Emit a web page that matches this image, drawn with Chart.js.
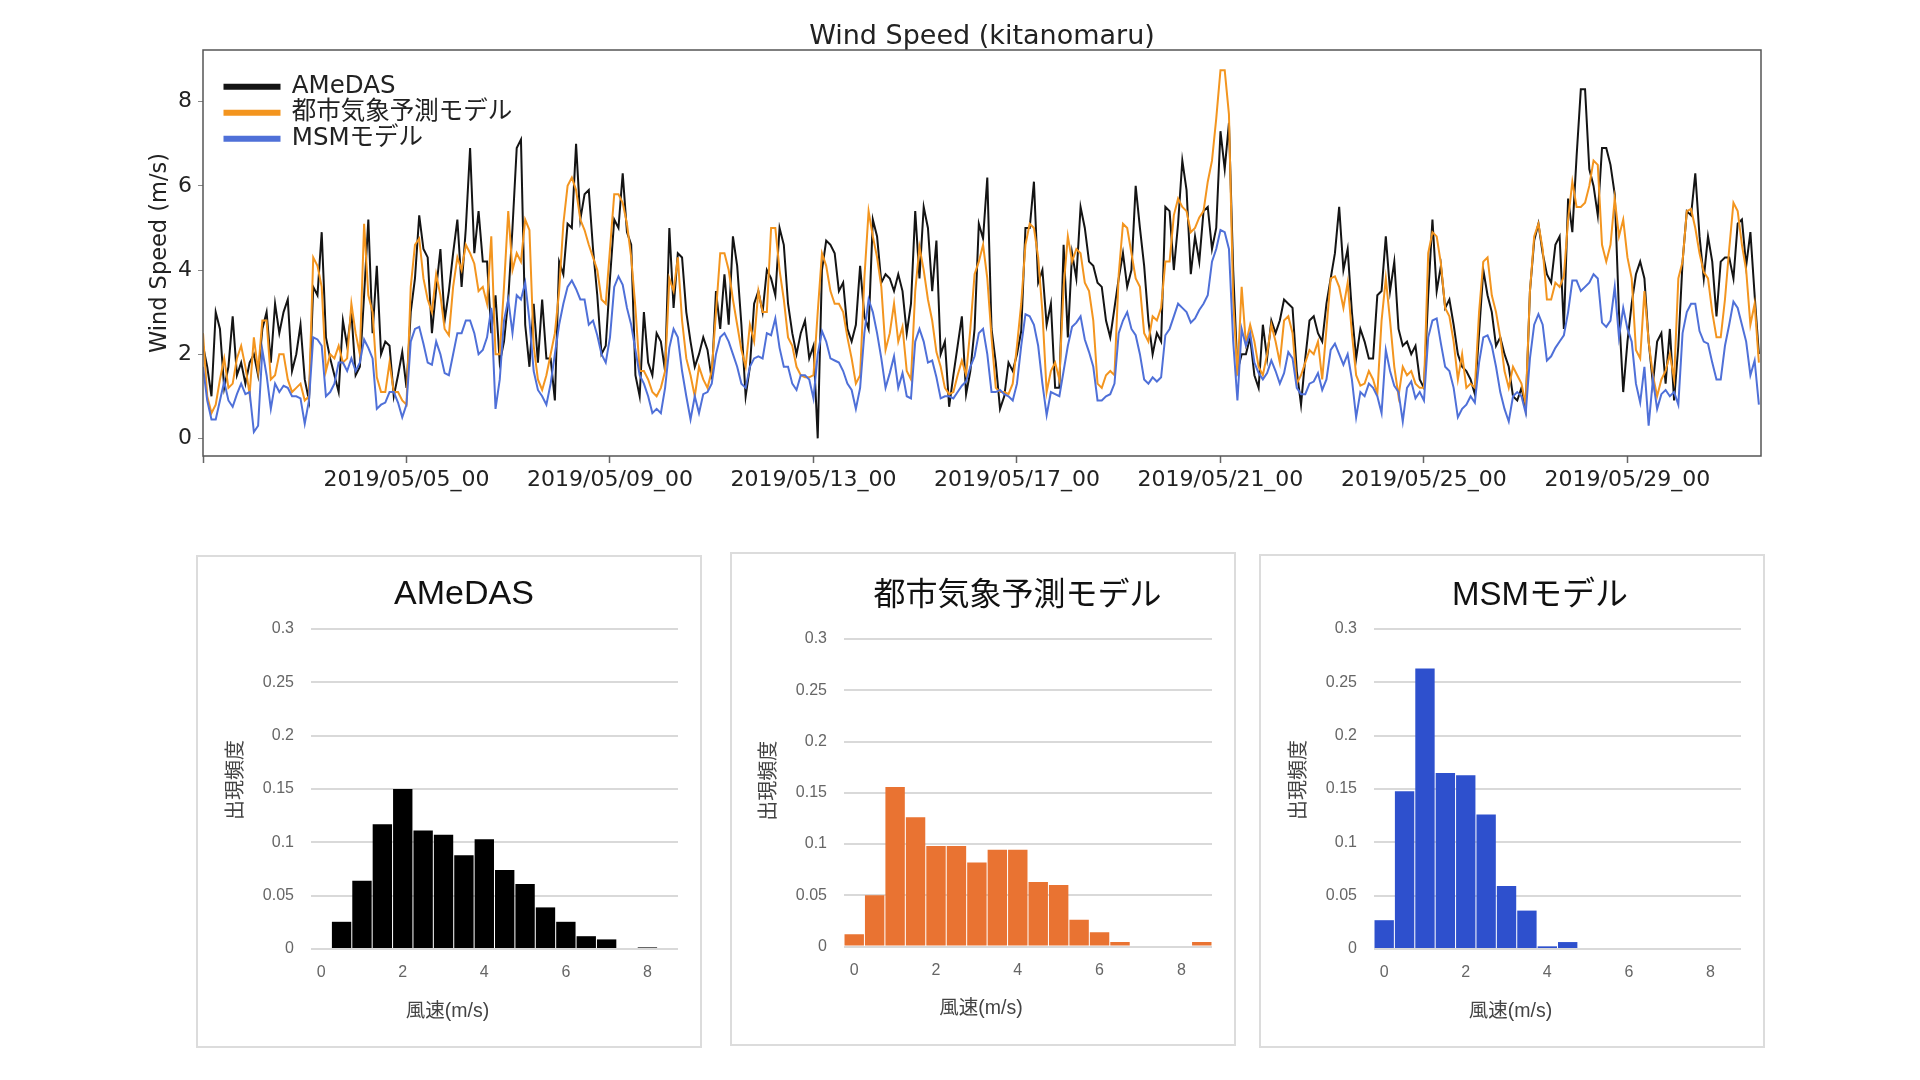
<!DOCTYPE html>
<html>
<head>
<meta charset="utf-8">
<script src="https://cdn.jsdelivr.net/npm/chart.js@4"></script>
<style>
  body { margin:0; background:#fff; width:1920px; height:1080px; overflow:hidden; position:relative; }
  canvas { position:absolute; }
  .card { position:absolute; box-sizing:border-box; border:2px solid #dcdcdc; background:#fff; }
</style>
</head>
<body>
<div class="card" style="left:196px;top:555px;width:506px;height:493px"></div>
<div class="card" style="left:730px;top:552px;width:506px;height:494px"></div>
<div class="card" style="left:1259px;top:554px;width:506px;height:494px"></div>
<canvas id="line-chart" style="left:142px;top:0" width="1680" height="506"></canvas>
<canvas id="hist-amedas" style="left:205px;top:540px" width="518" height="508"></canvas>
<canvas id="hist-urban" style="left:746px;top:540px" width="543" height="508"></canvas>
<canvas id="hist-msm" style="left:1276px;top:540px" width="528" height="508"></canvas>
<script>
// one value every 2 hours from 2019/05/01_00
const STEP_HOURS = 2;
const seriesNames = ['AMeDAS', '都市気象予測モデル', 'MSMモデル'];

const amedasSpeed = [
  2.2,1.7,1.0,3.0,2.6,1.2,1.7,2.9,1.5,1.8,
  1.3,1.8,2.0,1.5,2.6,3.0,1.8,3.2,2.5,3.0,
  3.3,1.6,2.0,2.7,1.4,0.9,3.6,3.4,4.9,2.4,
  1.9,1.5,1.1,2.8,2.2,3.0,1.5,1.7,3.4,5.2,
  2.5,4.1,2.0,2.3,2.2,1.0,1.5,2.05,1.2,3.0,
  3.8,5.3,4.5,4.3,2.5,3.55,4.5,2.8,3.5,4.4,
  5.2,3.6,5.0,6.9,4.4,5.4,4.2,4.2,2.5,3.4,
  1.8,2.3,3.3,5.0,6.9,7.1,2.7,1.7,3.2,1.8,
  3.3,1.9,1.9,0.9,4.2,3.9,5.1,5.0,7.0,5.2,
  5.8,5.9,4.5,3.4,2.0,2.2,3.8,5.2,5.0,6.3,
  4.9,4.6,1.5,1.0,3.0,1.8,1.5,2.5,2.3,1.6,
  5.0,3.1,4.4,4.3,3.0,2.3,1.7,2.0,2.4,2.1,
  1.4,3.5,2.6,3.9,2.7,4.8,4.1,2.7,1.0,1.7,
  3.2,3.5,3.0,4.0,3.8,3.4,5.0,4.6,3.2,2.5,
  2.0,2.5,2.8,1.9,2.2,0.0,4.0,4.7,4.6,4.4,
  3.5,3.7,2.6,2.3,2.7,4.1,2.9,2.6,5.2,4.8,
  3.7,3.9,3.8,3.5,3.9,3.5,2.5,3.2,5.4,3.8,
  5.5,5.0,3.5,4.7,2.0,2.3,0.75,1.5,2.2,2.9,
  1.05,1.6,2.6,5.1,4.75,6.2,2.6,1.8,0.7,1.0,
  1.8,1.6,2.0,2.55,5.0,5.0,6.1,3.7,4.0,2.7,
  3.2,1.2,1.2,4.6,2.4,4.4,3.8,5.5,5.0,4.2,
  4.1,3.7,3.6,2.8,2.4,3.1,3.8,4.4,3.6,4.0,
  6.0,5.0,4.1,2.8,2.0,2.5,2.3,5.5,5.4,4.0,
  5.1,6.6,5.9,3.9,4.8,4.2,5.4,5.5,4.5,5.0,
  7.3,6.4,7.5,4.0,1.6,2.0,2.0,2.4,1.5,1.2,
  2.7,1.9,2.8,2.5,2.8,3.3,3.2,3.1,1.6,0.8,
  1.9,2.8,2.9,2.5,2.3,3.2,3.8,4.4,5.5,4.0,
  4.5,3.0,1.9,2.6,2.3,1.9,1.9,3.4,3.5,4.8,
  3.5,4.2,2.6,2.2,2.3,2.0,2.2,1.4,1.2,3.4,
  5.2,3.5,4.1,3.1,3.3,2.7,2.0,1.7,1.6,1.4,
  1.05,2.5,4.0,3.4,3.0,2.2,2.4,2.0,1.7,1.0,
  0.9,1.2,0.7,3.5,4.7,5.1,4.4,3.9,3.7,4.6,
  4.8,2.6,5.7,4.9,6.7,8.3,8.3,6.4,6.0,5.3,
  6.9,6.9,6.5,5.8,3.0,1.1,2.3,3.2,3.9,4.2,
  3.8,2.3,1.3,2.3,2.5,1.3,2.6,0.9,2.2,4.2,
  5.4,5.3,6.3,4.8,3.8,4.8,4.2,2.9,4.2,4.3,
  4.3,3.8,5.1,5.2,4.1,4.9,3.4,2.0
];

const urbanSpeed = [
  2.5,1.0,0.6,0.8,1.4,1.9,1.2,1.3,1.9,2.2,
  1.7,1.05,2.4,1.6,2.8,2.8,1.4,1.5,2.0,2.0,
  1.4,1.1,1.2,1.3,0.9,1.0,4.3,4.1,3.6,1.6,
  2.0,1.9,2.2,1.8,1.9,3.2,2.5,2.0,5.1,3.4,
  3.0,1.45,1.1,1.1,1.8,1.1,1.1,0.9,0.8,3.6,
  4.6,4.75,3.8,3.3,3.0,3.9,3.4,2.6,2.45,3.6,
  4.3,4.0,4.6,4.4,4.15,3.5,3.6,3.2,4.8,2.0,
  2.0,3.6,5.4,4.0,4.4,4.2,5.2,4.95,2.2,1.4,
  1.15,1.5,2.0,2.5,3.5,5.1,6.0,6.2,5.9,5.2,
  4.95,4.6,4.3,4.0,3.3,3.2,4.5,5.8,5.8,5.6,
  5.1,4.3,3.1,1.6,1.6,1.4,1.1,1.0,1.2,1.6,
  3.8,3.5,4.3,2.8,1.9,1.5,1.0,1.7,1.4,1.2,
  1.6,3.0,4.4,4.4,4.0,3.3,2.7,2.1,1.7,2.7,
  2.3,3.5,3.0,3.0,5.0,5.0,4.0,3.3,2.4,2.2,
  1.7,1.5,1.45,1.45,1.5,3.0,4.4,4.1,3.5,3.2,
  3.2,3.0,2.4,1.9,1.3,1.5,3.8,5.4,4.8,4.3,
  3.6,2.1,2.5,3.2,2.3,2.65,1.6,1.4,3.5,4.55,
  4.0,3.3,2.8,2.05,1.7,1.2,1.05,1.1,1.5,1.85,
  1.5,2.6,3.9,4.2,4.6,3.8,2.4,1.2,1.1,1.1,
  1.05,1.3,2.2,3.2,4.6,5.1,5.0,4.3,3.0,1.1,
  1.6,1.8,1.4,3.6,4.8,4.2,4.5,4.4,3.7,3.5,
  2.8,1.3,1.2,1.5,1.6,1.5,3.9,5.1,5.0,4.4,
  3.8,3.6,2.5,2.3,2.9,2.8,3.1,4.2,4.2,5.3,
  5.7,5.5,5.4,4.9,5.0,5.25,5.4,6.1,6.6,7.6,
  8.75,8.75,7.7,3.3,1.5,3.6,2.25,2.7,2.3,1.7,
  1.5,2.0,2.7,2.3,1.8,2.8,2.9,2.5,1.3,1.5,
  1.8,2.1,2.0,2.3,1.4,2.6,3.8,3.85,3.6,3.1,
  3.7,2.5,1.5,1.25,1.3,1.6,1.4,1.05,2.8,3.8,
  2.8,1.7,1.0,1.7,1.5,1.6,1.3,1.2,1.2,4.4,
  4.9,4.8,4.15,3.1,2.9,2.3,1.4,2.0,1.2,1.3,
  1.2,3.0,4.2,4.3,3.4,3.0,2.4,1.6,1.2,1.7,
  1.5,1.3,0.8,3.5,4.8,5.1,4.5,3.3,3.3,3.7,
  3.6,3.85,5.2,6.1,5.5,5.5,5.6,6.0,6.6,6.5,
  4.6,4.2,4.6,5.7,4.8,5.2,4.3,3.8,2.1,1.9,
  3.5,2.3,1.5,1.0,1.4,1.6,2.0,1.4,3.8,4.2,
  5.4,5.45,5.0,4.4,3.95,3.8,3.0,2.4,2.4,3.3,
  4.5,5.6,5.4,4.6,4.0,2.7,3.2,1.8
];

const msmSpeed = [
  1.7,0.9,0.45,0.45,0.9,1.35,0.9,0.75,1.05,1.3,
  1.05,1.1,0.15,0.3,2.1,1.5,0.7,1.3,1.1,1.25,
  1.2,1.0,1.0,0.95,0.35,0.9,2.4,2.35,2.2,1.0,
  1.1,1.3,1.8,1.8,1.6,1.9,1.6,1.8,2.35,2.15,
  1.9,0.7,0.8,0.85,1.1,1.1,0.85,0.5,0.8,2.3,
  2.6,2.65,2.25,1.8,1.75,2.3,2.0,1.55,1.5,2.0,
  2.5,2.5,2.8,2.8,2.5,2.0,2.1,2.4,3.1,0.7,
  1.4,2.8,3.3,2.5,3.4,3.3,3.7,2.8,1.6,1.15,
  1.0,0.8,1.3,2.0,2.7,3.2,3.6,3.75,3.55,3.3,
  3.3,2.7,2.8,2.45,2.0,1.8,2.4,3.6,3.85,3.65,
  3.1,2.7,2.1,1.5,1.3,1.0,0.6,0.7,0.6,1.2,
  2.15,2.6,2.4,1.6,1.0,0.45,1.0,0.6,1.05,1.1,
  1.3,2.0,2.4,2.5,2.3,2.0,1.7,1.3,1.2,1.7,
  1.9,1.95,1.9,2.5,2.45,2.85,2.15,1.7,1.7,1.3,
  1.15,1.5,1.5,1.4,0.95,2.0,2.55,2.3,1.9,1.85,
  1.8,1.6,1.3,1.15,0.7,1.2,2.5,3.3,3.0,2.5,
  1.9,1.2,1.55,1.95,1.2,1.55,1.0,0.95,2.3,2.6,
  2.3,1.8,1.85,1.45,0.95,1.0,1.0,0.95,1.1,1.25,
  1.35,1.7,1.95,2.5,2.6,2.0,1.1,1.1,1.15,1.05,
  1.0,0.9,1.3,2.2,2.95,2.9,2.7,2.2,1.3,0.55,
  1.1,1.05,1.0,1.6,2.2,2.65,2.75,2.9,2.35,2.05,
  1.7,0.9,0.9,1.0,1.05,1.3,2.5,2.8,3.0,2.6,
  2.45,2.0,1.4,1.3,1.45,1.35,1.45,2.45,2.6,2.9,
  3.2,3.1,3.0,2.75,2.85,3.05,3.2,3.4,4.2,4.5,
  4.95,4.9,4.5,2.3,0.9,2.6,2.2,2.5,1.8,1.55,
  1.4,1.55,1.85,1.6,1.3,1.55,2.05,1.9,1.2,1.05,
  1.05,1.3,1.35,1.55,1.15,1.4,2.1,2.25,2.0,1.75,
  2.0,1.4,0.5,1.1,1.0,1.3,1.2,1.0,0.6,2.1,
  1.6,1.25,1.1,0.4,1.2,1.35,0.95,1.1,0.9,2.4,
  2.8,2.85,2.25,1.7,1.6,1.2,0.5,0.7,0.8,1.0,
  0.85,1.8,2.4,2.45,2.2,1.7,1.1,0.7,0.4,1.0,
  1.1,1.0,0.6,1.9,2.7,2.95,2.7,1.85,1.95,2.15,
  2.3,2.45,3.0,3.75,3.75,3.5,3.6,3.7,3.9,3.8,
  2.75,2.65,2.8,3.6,2.4,3.1,2.6,2.3,1.3,0.85,
  1.7,0.3,1.4,0.7,1.05,1.15,1.0,1.1,0.8,2.5,
  3.0,3.2,3.2,2.55,2.3,2.25,1.8,1.4,1.4,2.2,
  2.7,3.25,3.1,2.7,2.3,1.5,1.85,0.8
];

const tickHours = [0, 96, 192, 288, 384, 480, 576, 672];
const tickLabels = ['', '2019/05/05_00', '2019/05/09_00', '2019/05/13_00', '2019/05/17_00',
  '2019/05/21_00', '2019/05/25_00', '2019/05/29_00'];
const speedTicks = [0, 2, 4, 6, 8];

const binCenters = [0,0.5,1,1.5,2,2.5,3,3.5,4,4.5,5,5.5,6,6.5,7,7.5,8,8.5];
const amedasFreq = [0,0.0255,0.064,0.117,0.15,0.111,0.107,0.088,0.103,0.074,0.061,0.039,0.0255,0.012,0.009,0,0.0015,0];
const urbanFreq = [0.012,0.05,0.1555,0.126,0.098,0.098,0.082,0.0945,0.0945,0.063,0.06,0.026,0.014,0.0045,0,0,0,0.0045];
const msmFreq = [0.027,0.148,0.263,0.165,0.163,0.126,0.059,0.036,0.0025,0.0065,0,0,0,0,0,0,0,0];

const DEJAVU = '"DejaVu Sans","Noto Sans CJK JP",sans-serif';
const LIBERATION = '"Liberation Sans","Noto Sans CJK JP",sans-serif';

function toPoints(values){ return values.map((y, i) => ({ x: i * STEP_HOURS, y })); }

// empty right axis: keeps the chart title centred over the plot
function gutterAxis(width) {
  return {
    position: 'right',
    afterFit: s => { s.width = width; },
    grid: { display: false },
    border: { display: false },
    ticks: { display: false }
  };
}

// top chart: wind speed lines
const frame = {
  id: 'frame',
  afterDatasetsDraw(chart) {
    const a = chart.chartArea, ctx = chart.ctx;
    ctx.save();
    ctx.strokeStyle = '#555';
    ctx.lineWidth = 1.5;
    ctx.strokeRect(a.left, a.top, a.right - a.left, a.bottom - a.top);
    ctx.restore();
  }
};
const legendOffset = {
  id: 'legendOffset',
  afterLayout(chart) { chart.legend.left += 20; chart.legend.top += 73; }
};

new Chart(document.getElementById('line-chart'), {
  type: 'line',
  plugins: [frame, legendOffset],
  data: {
    datasets: [
      { label: seriesNames[0], data: toPoints(amedasSpeed), borderColor: '#141414', backgroundColor: '#141414', order: 3 },
      { label: seriesNames[1], data: toPoints(urbanSpeed), borderColor: '#f3951f', backgroundColor: '#f3951f', order: 2 },
      { label: seriesNames[2], data: toPoints(msmSpeed), borderColor: '#4f70d8', backgroundColor: '#4f70d8', order: 1 }
    ]
  },
  options: {
    responsive: false,
    animation: false,
    elements: { point: { radius: 0 }, line: { borderWidth: 2, tension: 0 } },
    plugins: {
      title: {
        display: true, text: 'Wind Speed (kitanomaru)', color: '#222',
        font: { family: DEJAVU, size: 27, weight: 'normal', lineHeight: 1 },
        padding: { top: 23, bottom: 0 }
      },
      legend: {
        position: 'chartArea', align: 'start',
        labels: {
          boxWidth: 55, boxHeight: 4, padding: 1.5, color: '#222',
          font: { family: DEJAVU, size: 24.5, lineHeight: 1 },
          sort: (a, b) => a.datasetIndex - b.datasetIndex
        }
      },
      tooltip: { enabled: false }
    },
    scales: {
      x: {
        type: 'linear', min: 0, max: 735,
        afterBuildTicks: s => { s.ticks = tickHours.map(value => ({ value })); },
        afterFit: s => { s.height = 50; },
        grid: { drawOnChartArea: false, tickLength: 7, tickColor: '#666', tickWidth: 1.5 },
        border: { display: false },
        ticks: {
          autoSkip: false, maxRotation: 0, padding: 4, color: '#222',
          font: { family: DEJAVU, size: 22 },
          callback: v => tickLabels[tickHours.indexOf(v)]
        }
      },
      y: {
        min: -0.42, max: 9.23,
        afterBuildTicks: s => { s.ticks = speedTicks.map(value => ({ value })); },
        afterFit: s => { s.width = 61; },
        grid: { drawOnChartArea: false, tickLength: 5, tickColor: '#888' },
        border: { display: false },
        ticks: { padding: 6, color: '#222', font: { family: DEJAVU, size: 22 } },
        title: {
          display: true, text: 'Wind Speed (m/s)', color: '#222',
          font: { family: DEJAVU, size: 22.5 }, padding: { top: 5, bottom: 0 }
        }
      },
      gutter: gutterAxis(61)
    }
  }
});

// lower charts: frequency histograms. Axis titles sit off-centre in the original,
// so they are drawn by a small plugin rather than the scale title.
function histogram(id, title, titleSize, values, color, left, top, layout) {
  const plotTitles = {
    id: 'plotTitles',
    afterDraw(chart) {
      const a = chart.chartArea, ctx = chart.ctx;
      ctx.save();
      ctx.fillStyle = '#444';
      ctx.font = '19.5px ' + LIBERATION;
      ctx.textAlign = 'center';
      ctx.textBaseline = 'middle';
      ctx.fillText('風速(m/s)', (a.left + a.right) / 2 - 47, a.bottom + 62.5);
      ctx.font = '20px ' + LIBERATION;
      ctx.translate(left, (a.top + a.bottom) / 2 - layout.yTitleUp);
      ctx.rotate(-Math.PI / 2);
      ctx.fillText('出現頻度', 0, 0);
      ctx.restore();
    }
  };
  new Chart(document.getElementById(id), {
    type: 'bar',
    plugins: [plotTitles],
    data: {
      labels: binCenters,
      datasets: [{ data: values, backgroundColor: color, barPercentage: 0.95, categoryPercentage: 1 }]
    },
    options: {
      responsive: false,
      animation: false,
      plugins: {
        legend: { display: false },
        tooltip: { enabled: false },
        title: {
          display: true, text: title, color: '#111',
          font: { family: LIBERATION, size: titleSize, weight: 'normal', lineHeight: 1 },
          padding: { top: top, bottom: layout.plotTop - top - titleSize }
        }
      },
      scales: {
        x: {
          grid: { display: false },
          border: { display: false },
          afterFit: s => { s.height = layout.axisHeight; },
          ticks: {
            autoSkip: false, maxRotation: 0, padding: 6, color: '#666',
            font: { family: LIBERATION, size: 16 },
            callback: (v, i) => binCenters[i] % 2 === 0 ? String(binCenters[i]) : ''
          }
        },
        y: {
          min: 0, max: 0.3,
          afterFit: s => { s.width = layout.gutter; },
          grid: { color: '#d9d9d9', lineWidth: 2, drawTicks: false },
          border: { display: false },
          ticks: {
            stepSize: 0.05, padding: 17, color: '#666',
            font: { family: LIBERATION, size: 16 },
            callback: v => String(+v.toFixed(2))
          }
        },
        gutter: gutterAxis(layout.right)
      }
    }
  });
}

histogram('hist-amedas', seriesNames[0], 34, amedasFreq, '#000000', 31.5, 37.5,
  { plotTop: 89, axisHeight: 99, gutter: 106, right: 45, yTitleUp: 9 });
histogram('hist-urban', seriesNames[1], 32, urbanFreq, '#e97332', 23.5, 40.5,
  { plotTop: 99, axisHeight: 101.5, gutter: 98, right: 77, yTitleUp: 12 });
histogram('hist-msm', seriesNames[2], 33, msmFreq, '#2e50cd', 23.5, 39.5,
  { plotTop: 89, axisHeight: 99, gutter: 98, right: 63, yTitleUp: 9 });
</script>
</body>
</html>
